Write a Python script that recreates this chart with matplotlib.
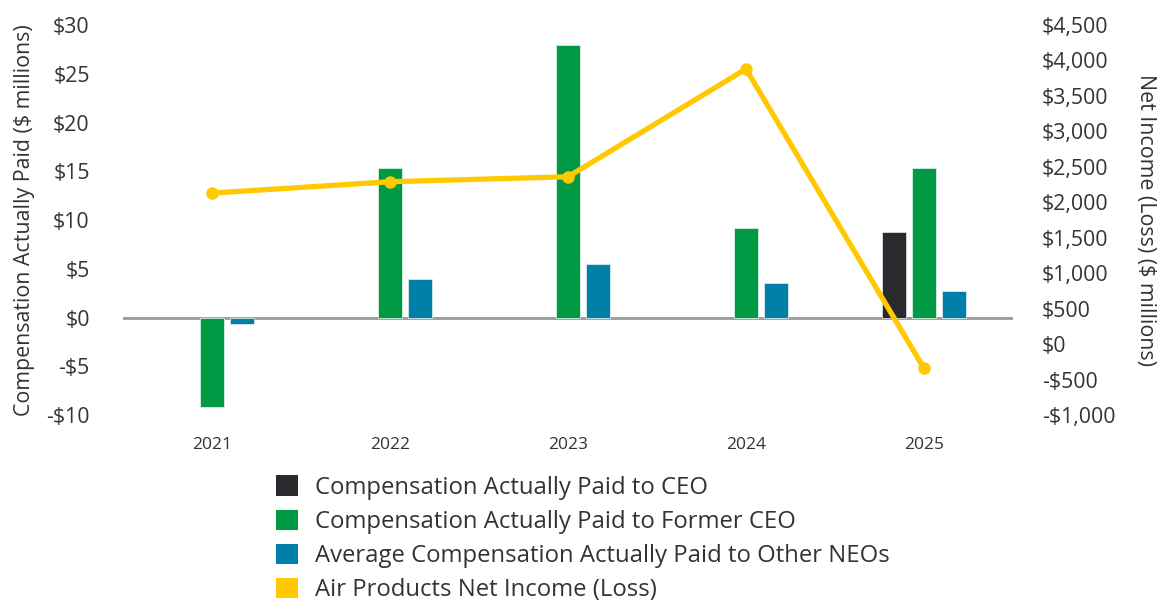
import matplotlib.pyplot as plt
from matplotlib.patches import Patch
from matplotlib.ticker import FuncFormatter
import numpy as np

plt.rcParams['font.family'] = ['Open Sans', 'DejaVu Sans']

years = [2021, 2022, 2023, 2024, 2025]
ceo = [np.nan, np.nan, np.nan, np.nan, 8.8]
former_ceo = [-9.2, 15.3, 27.9, 9.2, 15.3]
other_neos = [-0.7, 4.0, 5.5, 3.5, 2.7]
net_income = [2130, 2290, 2360, 3880, -340]

labels = ['Compensation Actually Paid to CEO',
          'Compensation Actually Paid to Former CEO',
          'Average Compensation Actually Paid to Other NEOs',
          'Air Products Net Income (Loss)']
colors = ['#2a2a2e', '#009a44', '#0080a8', '#ffc800']

text_col = '#333333'

fig = plt.figure(figsize=(11.57, 6), dpi=100)
ax = fig.add_axes([0.1063, 0.3083, 0.7692, 0.65])
ax2 = ax.twinx()

x = np.array(years)
w = 0.135
off = 0.169
ax.bar(x - off, ceo, w, color=colors[0], edgecolor='#dddddd', linewidth=0.6, zorder=3)
ax.bar(x, former_ceo, w, color=colors[1], edgecolor='#d8eee0', linewidth=0.6, zorder=3)
ax.bar(x + off, other_neos, w, color=colors[2], edgecolor='#d8e8ee', linewidth=0.6, zorder=3)
ax.axhline(0, color='#999999', linewidth=2, zorder=2)

ax2.plot(x, net_income, color=colors[3], linewidth=3.8, marker='o', markersize=8,
         solid_capstyle='round', zorder=4)

ax.set_xlim(2020.5, 2025.5)
ax.set_ylim(-10, 30)
ax.set_yticks(np.arange(-10, 31, 5))
ax2.set_ylim(-1000, 4500)
ax2.set_yticks(np.arange(-1000, 4501, 500))

def money(v, pos):
    s = '${:,.0f}'.format(abs(v))
    return '-' + s if v < 0 else s

ax.yaxis.set_major_formatter(FuncFormatter(money))
ax2.yaxis.set_major_formatter(FuncFormatter(money))
ax.set_xticks(years)

for a in (ax, ax2):
    for sp in a.spines.values():
        sp.set_visible(False)
    a.tick_params(length=0, colors=text_col)

ax.tick_params(axis='y', labelsize=15.3, pad=24)
ax2.tick_params(axis='y', labelsize=15.3, pad=21)
ax.tick_params(axis='x', labelsize=12.5, pad=16)

ax.set_ylabel('Compensation Actually Paid ($ millions)', fontsize=15.4, color=text_col, labelpad=8)
ax2.set_ylabel('Net Income (Loss) ($ millions)', fontsize=15.4, color=text_col,
               rotation=270, labelpad=29)

ax.set_zorder(ax2.get_zorder() - 1)
ax.patch.set_visible(True)
ax2.patch.set_visible(False)

handles = [Patch(facecolor=c, edgecolor='none') for c in colors]
fig.legend(handles, labels, loc='upper left', bbox_to_anchor=(0.2303, 0.2235),
           frameon=False, fontsize=17.2, handlelength=0.92, handleheight=0.92,
           handletextpad=0.72, labelspacing=0.41, borderaxespad=0,
           labelcolor=text_col)

fig.savefig('out.png', dpi=100)
